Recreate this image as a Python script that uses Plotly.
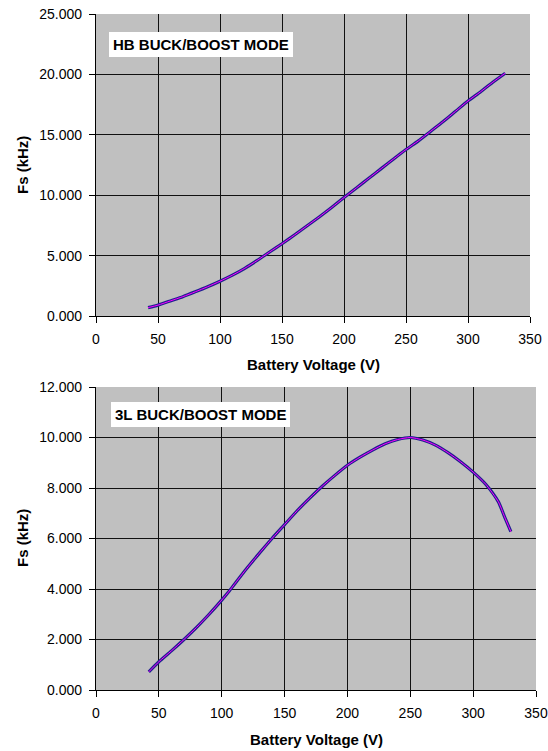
import plotly.graph_objects as go

# ---- data ----
hb_voltage = [42, 50, 60, 70, 80, 90, 100, 110, 120, 130, 140, 150, 160, 170, 180, 190,
              200, 210, 220, 230, 240, 250, 260, 270, 280, 290, 300, 310, 320, 330]
hb_fs = [0.69, 0.90, 1.25, 1.60, 2.00, 2.42, 2.88, 3.38, 3.95, 4.60, 5.30, 5.98, 6.70, 7.45,
         8.20, 8.98, 9.80, 10.60, 11.40, 12.20, 13.00, 13.78, 14.50, 15.30, 16.10, 16.95,
         17.80, 18.55, 19.35, 20.10]

l3_voltage = [42, 50, 60, 70, 80, 90, 100, 106, 110, 120, 130, 140, 150, 160, 170, 180, 190,
              200, 210, 220, 230, 240, 250, 260, 270, 280, 290, 300, 310, 320, 325, 330]
l3_fs = [0.72, 1.12, 1.55, 2.00, 2.48, 3.00, 3.56, 3.92, 4.18, 4.82, 5.42, 6.00, 6.55, 7.10,
         7.60, 8.07, 8.50, 8.90, 9.22, 9.50, 9.75, 9.92, 10.00, 9.90, 9.70, 9.40, 9.04, 8.63,
         8.15, 7.46, 6.86, 6.27]

x_ticks = [0, 50, 100, 150, 200, 250, 300, 350]
hb_y_ticks = [0, 5, 10, 15, 20, 25]
l3_y_ticks = [0, 2, 4, 6, 8, 10, 12]

x_title = "Battery Voltage (V)"
y_title = "Fs (kHz)"
hb_label = "HB BUCK/BOOST MODE"
l3_label = "3L BUCK/BOOST MODE"

W, H = 548, 751
FONT = "Liberation Sans, Arial, sans-serif"

fig = go.Figure()

def add_curve(x, y, xa, ya):
    fig.add_trace(go.Scatter(x=x, y=y, mode="lines", xaxis=xa, yaxis=ya,
                             line=dict(color="#202090", width=3.2, shape="spline", smoothing=0.6),
                             showlegend=False, hoverinfo="skip"))
    fig.add_trace(go.Scatter(x=x, y=y, mode="lines", xaxis=xa, yaxis=ya,
                             line=dict(color="#ff00ff", width=1, shape="spline", smoothing=0.6),
                             showlegend=False))

add_curve(hb_voltage, hb_fs, "x", "y")
add_curve(l3_voltage, l3_fs, "x2", "y2")

def px_x(p):
    return p / W

def px_y(p):
    return 1 - p / H

axis_common = dict(showgrid=True, gridcolor="#111111", gridwidth=1.3,
                   showline=True, linecolor="#000000", linewidth=1.3,
                   ticks="outside", ticklen=6, tickcolor="#000000", tickwidth=1.3,
                   tickfont=dict(family=FONT, size=14, color="#000000"),
                   zeroline=False, fixedrange=True, automargin=False)

top_x = [96, 530]
top_y = [14, 316]
bot_x = [96, 536]
bot_y = [387, 690]

fig.update_layout(
    width=W, height=H,
    margin=dict(l=0, r=0, t=0, b=0, autoexpand=False),
    paper_bgcolor="#ffffff",
    plot_bgcolor="#c0c0c0",
    font=dict(family=FONT, color="#000000"),
    xaxis=dict(domain=[px_x(top_x[0]), px_x(top_x[1])], range=[0, 350], tickvals=x_ticks,
               anchor="y", ticklabelstandoff=4, **axis_common),
    yaxis=dict(domain=[px_y(top_y[1]), px_y(top_y[0])], range=[0, 25], tickvals=hb_y_ticks,
               tickformat=".3f", anchor="x", ticklabelstandoff=4, **axis_common),
    xaxis2=dict(domain=[px_x(bot_x[0]), px_x(bot_x[1])], range=[0, 350], tickvals=x_ticks,
                anchor="y2", ticklabelstandoff=4, **axis_common),
    yaxis2=dict(domain=[px_y(bot_y[1]), px_y(bot_y[0])], range=[0, 12], tickvals=l3_y_ticks,
                tickformat=".3f", anchor="x2", ticklabelstandoff=4, **axis_common),
)

title_font = dict(family=FONT, size=15, color="#000000")
annotations = []
# axis titles
for cx, cy in [(313, 364), (316, 739)]:
    annotations.append(dict(text="<b>%s</b>" % x_title, xref="paper", yref="paper",
                            x=px_x(cx), y=px_y(cy), xanchor="center", yanchor="middle",
                            showarrow=False, font=title_font))
for cy in [165, 538]:
    annotations.append(dict(text="<b>%s</b>" % y_title, xref="paper", yref="paper",
                            x=px_x(22), y=px_y(cy), xanchor="center", yanchor="middle",
                            textangle=-90, showarrow=False, font=title_font))
# mode labels
for text, lx, ly in [(hb_label, 109, 32), (l3_label, 111, 402)]:
    annotations.append(dict(text="<b>%s</b>" % text, xref="paper", yref="paper",
                            x=px_x(lx), y=px_y(ly), xanchor="left", yanchor="top",
                            showarrow=False, bgcolor="#ffffff", borderpad=4, borderwidth=0,
                            font=dict(family=FONT, size=15, color="#000000")))
fig.update_layout(annotations=annotations)

fig.write_html("out.html")
